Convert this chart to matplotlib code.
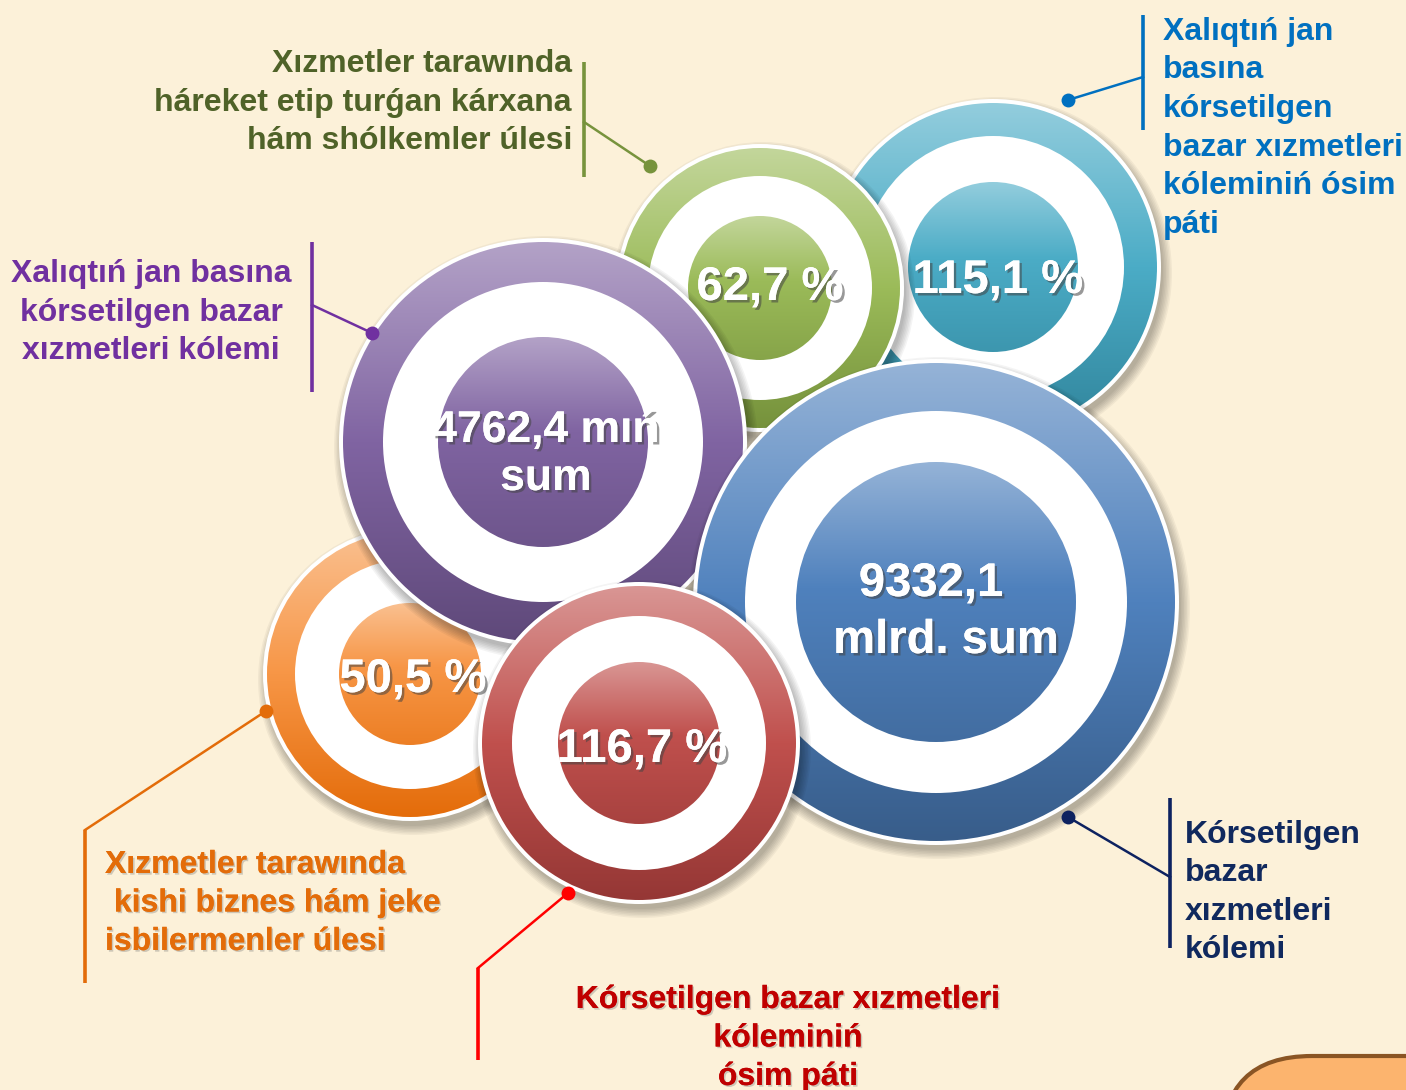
import numpy as np
import matplotlib
matplotlib.use("Agg")
import matplotlib.pyplot as plt
from matplotlib.patches import Circle, FancyBboxPatch
from matplotlib.colors import to_rgb
import matplotlib.patheffects as pe

plt.rcParams['font.family'] = ['Liberation Sans', 'DejaVu Sans']

# ---------------- data ----------------
keys = ['teal', 'green', 'orange', 'purple', 'blue', 'red']
value_lines = {
    'teal': ['115,1 %'],
    'green': ['62,7 %'],
    'orange': ['50,5 %'],
    'purple': ['4762,4 mıń', 'sum'],
    'blue': ['9332,1', 'mlrd. sum'],
    'red': ['116,7 %'],
}
label_lines = {
    'teal': ['Xalıqtıń jan', 'basına', 'kórsetilgen', 'bazar xızmetleri',
             'kóleminiń ósim', 'páti'],
    'green': ['Xızmetler tarawında', 'háreket etip turǵan kárxana',
              'hám shólkemler úlesi'],
    'orange': ['Xızmetler tarawında', ' kishi biznes hám jeke',
               'isbilermenler úlesi'],
    'purple': ['Xalıqtıń jan basına', 'kórsetilgen bazar', 'xızmetleri kólemi'],
    'blue': ['Kórsetilgen', 'bazar', 'xızmetleri', 'kólemi'],
    'red': ['Kórsetilgen bazar xızmetleri', 'kóleminiń', 'ósim páti'],
}

# ---------------- styles / layout ----------------
grad = {  # light, base, dark
    'teal': ('#93CDDD', '#4BACC6', '#31859C'),
    'green': ('#C3D69B', '#9BBB59', '#76923C'),
    'orange': ('#FAC090', '#F79646', '#E46C0A'),
    'purple': ('#B3A2C7', '#8064A2', '#5F497A'),
    'blue': ('#95B3D7', '#4F81BD', '#385D8A'),
    'red': ('#D99694', '#C0504D', '#953735'),
}
label_color = {'teal': '#0070C0', 'green': '#4F6228', 'orange': '#E36C09',
               'purple': '#7030A0', 'blue': '#10295E', 'red': '#C00000'}
line_color = {'teal': '#0070C0', 'green': '#77933C', 'orange': '#E36C09',
              'purple': '#7030A0', 'blue': '#0D2260', 'red': '#FF0000'}
# circle geometry: cx, cy, R outer, R white, R inner
geom = {
    'teal': (993, 267, 164, 131, 85),
    'green': (760, 288, 140, 112, 72),
    'orange': (410, 674, 143, 115, 71),
    'purple': (543, 442, 200, 160, 105),
    'blue': (936, 602, 239, 191, 140),
    'red': (639, 743, 157, 127, 81),
}
# value text: list of (x, baseline y), font size
val_pos = {
    'teal': ([(998, 293)], 34),
    'green': ([(770, 300)], 34),
    'orange': ([(413, 692)], 34),
    'purple': ([(546, 442), (546, 490)], 32),
    'blue': ([(931, 596), (946, 653)], 34),
    'red': ([(642, 762)], 34),
}
# label text: x, first baseline, spacing, ha
lab_pos = {
    'teal': (1163, 40, 38.5, 'left'),
    'green': (572, 72, 38.5, 'right'),
    'orange': (105, 873, 38.5, 'left'),
    'purple': (151, 282, 38.5, 'center'),
    'blue': (1185, 843, 38.3, 'left'),
    'red': (788, 1008, 38.5, 'center'),
}
# connectors: vertical bar (x, y0, y1), leader start, dot
conn = {
    'teal': ((1143, 15, 130), (1143, 77), (1068, 100)),
    'green': ((584, 62, 177), (584, 122), (650, 166)),
    'orange': ((85, 830, 983), (85, 830), (266, 711)),
    'purple': ((312, 242, 392), (312, 305), (372, 333)),
    'blue': ((1170, 798, 948), (1170, 877), (1068, 817)),
    'red': ((478, 968, 1060), (478, 968), (568, 893)),
}

bg = '#FCF1D9'
fig = plt.figure(figsize=(14.06, 10.9), dpi=100)
fig.patch.set_facecolor(bg)
ax = fig.add_axes([0, 0, 1, 1])
ax.set_facecolor(bg)


def mix(a, b, f):
    a, b = np.array(to_rgb(a)), np.array(to_rgb(b))
    return a * (1 - f) + b * f


def gradient_fill(cx, cy, r, stops, z):
    t = np.linspace(0, 1, 300)
    pos = [s[0] for s in stops]
    cols = np.array([to_rgb(s[1]) if isinstance(s[1], str) else s[1] for s in stops])
    img = np.stack([np.interp(t, pos, cols[:, c]) for c in range(3)], axis=-1)
    img = img[:, None, :]
    im = ax.imshow(img, extent=(cx - r, cx + r, cy + r, cy - r), origin='upper',
                   aspect='auto', interpolation='bilinear', zorder=z)
    clip = Circle((cx, cy), r, transform=ax.transData)
    im.set_clip_path(clip)


for i, k in enumerate(keys):
    cx, cy, R, Rw, Ri = geom[k]
    lt, base, dk = grad[k]
    z = 10 + i * 10
    # soft shadow
    for s in range(7):
        ax.add_patch(Circle((cx + 3, cy + 6), R + 3 + s * 1.5, color='black',
                            alpha=0.045, lw=0, zorder=z))
    ax.add_patch(Circle((cx, cy), R + 4, color='white', lw=0, zorder=z + 1))
    gradient_fill(cx, cy, R, [(0, lt), (0.5, base), (1, dk)], z + 2)
    ax.add_patch(Circle((cx, cy), Rw, color='white', lw=0, zorder=z + 3))
    gradient_fill(cx, cy, Ri, [(0, lt), (0.45, base), (1, mix(base, dk, 0.55))], z + 4)
    pts, fs = val_pos[k]
    for (x, y), txt in zip(pts, value_lines[k]):
        ax.text(x, y, txt, ha='center', va='baseline', fontsize=fs,
                fontweight='bold', color='white', zorder=z + 5,
                path_effects=[pe.withSimplePatchShadow(offset=(1.8, -1.8),
                                                       shadow_rgbFace='#444444',
                                                       alpha=0.55),
                              pe.Normal()])

# connectors and labels
for k in keys:
    (vx, vy0, vy1), (lx, ly), (dx, dy) = conn[k]
    c = line_color[k]
    ax.plot([vx, vx], [vy0, vy1], color=c, lw=2.6, solid_capstyle='butt', zorder=90)
    ax.plot([lx, dx], [ly, dy], color=c, lw=1.8, zorder=90)
    ax.plot([dx], [dy], 'o', color=c, ms=10, mec='none', zorder=91)
    x, y0, sp, ha = lab_pos[k]
    eff = None
    if k in ('orange', 'red'):
        eff = [pe.withSimplePatchShadow(offset=(1.2, -1.2), shadow_rgbFace='#777777',
                                        alpha=0.35), pe.Normal()]
    for j, line in enumerate(label_lines[k]):
        ax.text(x, y0 + j * sp, line, ha=ha, va='baseline', fontsize=23,
                fontweight='bold', color=label_color[k], zorder=92,
                path_effects=eff)

# decorative orange box at bottom right
ax.add_patch(FancyBboxPatch((1222, 1056), 400, 300,
                            boxstyle='round,pad=0,rounding_size=90',
                            fc='#FCB46E', ec='#8A5524', lw=3, zorder=5))

ax.set_xlim(0, 1406)
ax.set_ylim(1090, 0)
ax.axis('off')
fig.savefig('out.png', dpi=100, facecolor=bg)
